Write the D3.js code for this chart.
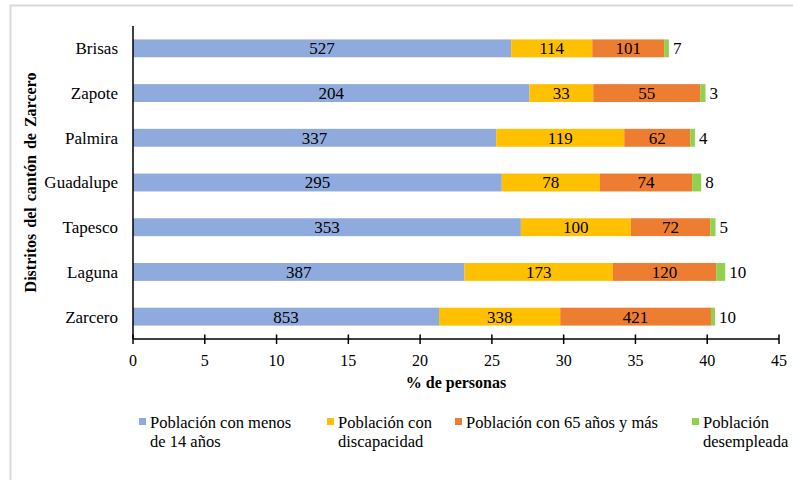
<!DOCTYPE html>
<html>
<head>
<meta charset="utf-8">
<script src="https://cdnjs.cloudflare.com/ajax/libs/d3/7.8.5/d3.min.js"></script>
<style>
  body { margin: 0; background: #fff; }
</style>
</head>
<body>
<svg id="chart" width="793" height="480"></svg>
<script>
// distritos, de arriba hacia abajo como en el original
const distritos = ["Brisas", "Zapote", "Palmira", "Guadalupe", "Tapesco", "Laguna", "Zarcero"];
const series = ["Población con menos de 14 años", "Población con discapacidad", "Población con 65 años y más", "Población desempleada"];
const colores = ["#8faadc", "#ffc000", "#ed7d31", "#92d050"];

// % de personas (largo de cada segmento)
const pctMenores = [26.34, 27.62, 25.30, 25.69, 27.02, 23.09, 21.32];
const pctDiscap = [5.65, 4.44, 8.92, 6.83, 7.66, 10.34, 8.44];
const pct65 = [5.01, 7.45, 4.60, 6.43, 5.53, 7.20, 10.50];
const pctDesemp = [0.33, 0.37, 0.32, 0.63, 0.37, 0.62, 0.28];

// cantidad de personas (etiquetas)
const nMenores = [527, 204, 337, 295, 353, 387, 853];
const nDiscap = [114, 33, 119, 78, 100, 173, 338];
const n65 = [101, 55, 62, 74, 72, 120, 421];
const nDesemp = [7, 3, 4, 8, 5, 10, 10];

const xTicks = [0, 5, 10, 15, 20, 25, 30, 35, 40, 45];
const legendLines = [["Población con menos", "de 14 años"], ["Población con", "discapacidad"], ["Población con 65 años y más"], ["Población", "desempleada"]];

const pcts = [pctMenores, pctDiscap, pct65, pctDesemp];
const nums = [nMenores, nDiscap, n65, nDesemp];

const FONT = "Liberation Serif";
const svg = d3.select("#chart");

// marco gris
svg.append("rect")
    .attr("x", 10.5).attr("y", 5.5)
    .attr("width", 800).attr("height", 500)
    .attr("fill", "none")
    .attr("stroke", "#d9d9d9")
    .attr("stroke-width", 2);

const x = d3.scaleLinear().domain([0, 45]).range([133, 779]);
const y = d3.scaleBand().domain(distritos).range([26, 339]).paddingInner(0.6).paddingOuter(0.3);

// segmentos
const rows = distritos.map((d, i) => {
    let acc = 0;
    return pcts.map((p, s) => {
        const seg = { distrito: d, serie: s, x0: acc, x1: acc + p[i], n: nums[s][i] };
        acc += p[i];
        return seg;
    });
}).flat();

svg.append("g").selectAll("rect")
    .data(rows)
    .enter()
    .append("rect")
    .attr("x", d => x(d.x0))
    .attr("y", d => y(d.distrito))
    .attr("width", d => x(d.x1) - x(d.x0))
    .attr("height", y.bandwidth())
    .attr("fill", d => colores[d.serie]);

// etiquetas de datos
svg.append("g").selectAll("text")
    .data(rows)
    .enter()
    .append("text")
    .attr("x", d => d.serie === 3 ? x(d.x1) + 4 : (x(d.x0) + x(d.x1)) / 2)
    .attr("y", d => y(d.distrito) + y.bandwidth() / 2)
    .attr("dy", "0.35em")
    .attr("text-anchor", d => d.serie === 3 ? "start" : "middle")
    .attr("font-family", FONT)
    .attr("font-size", 17)
    .text(d => d.n);

// eje y
svg.append("line")
    .attr("x1", 133).attr("x2", 133)
    .attr("y1", 26).attr("y2", 339)
    .attr("stroke", "#000").attr("stroke-width", 1.5);

svg.append("g").selectAll("text")
    .data(distritos)
    .enter()
    .append("text")
    .attr("x", 118)
    .attr("y", d => y(d) + y.bandwidth() / 2)
    .attr("dy", "0.35em")
    .attr("text-anchor", "end")
    .attr("font-family", FONT)
    .attr("font-size", 17)
    .text(d => d);

// eje x
const xAxis = svg.append("g");
xAxis.append("line")
    .attr("x1", x(0)).attr("x2", x(45))
    .attr("y1", 339).attr("y2", 339)
    .attr("stroke", "#000").attr("stroke-width", 1.5);
xAxis.selectAll(".tick")
    .data(xTicks)
    .enter()
    .append("line")
    .attr("x1", d => x(d)).attr("x2", d => x(d))
    .attr("y1", 334.5).attr("y2", 344)
    .attr("stroke", "#000").attr("stroke-width", 1.5);
xAxis.selectAll("text")
    .data(xTicks)
    .enter()
    .append("text")
    .attr("x", d => x(d))
    .attr("y", 366)
    .attr("text-anchor", "middle")
    .attr("font-family", FONT)
    .attr("font-size", 16)
    .text(d => d);

// títulos
svg.append("text")
    .attr("x", (x(0) + x(45)) / 2)
    .attr("y", 388)
    .attr("text-anchor", "middle")
    .attr("font-family", FONT)
    .attr("font-size", 16)
    .attr("font-weight", "bold")
    .text("% de personas");

svg.append("text")
    .attr("transform", `translate(36,${(26 + 339) / 2}) rotate(-90)`)
    .attr("text-anchor", "middle")
    .attr("font-family", FONT)
    .attr("font-size", 16)
    .attr("font-weight", "bold")
    .attr("word-spacing", 2)
    .text("Distritos del cantón de Zarcero");

// leyenda
const legendX = [139, 327, 455, 692];
const legend = svg.append("g").selectAll("g")
    .data(series)
    .enter()
    .append("g")
    .attr("transform", (d, i) => `translate(${legendX[i]},0)`);

legend.append("rect")
    .attr("x", 0).attr("y", 418)
    .attr("width", 7).attr("height", 7)
    .attr("fill", (d, i) => colores[i]);

legend.append("text")
    .attr("x", 11)
    .attr("y", 428)
    .attr("font-family", FONT)
    .attr("font-size", 16.5)
    .selectAll("tspan")
    .data((d, i) => legendLines[i])
    .enter()
    .append("tspan")
    .attr("x", 11)
    .attr("dy", (d, j) => j === 0 ? 0 : 19)
    .text(d => d);
</script>
</body>
</html>
